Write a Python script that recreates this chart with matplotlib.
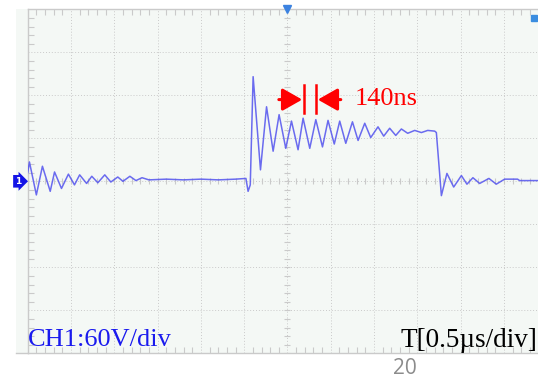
import numpy as np
import matplotlib.pyplot as plt
from matplotlib.patches import Rectangle
from matplotlib.lines import Line2D

# Scope settings: 12 horizontal divisions of 0.5 us, 8 vertical of 60 V
t_div = 0.5     # us/div
v_div = 60.0    # V/div
n_hdiv = 12
n_vdiv = 8

# CH1 trace vertices (time in us, voltage in V)
t_ring0 = [-3.00, -2.98, -2.90, -2.83, -2.74, -2.69, -2.61, -2.53, -2.46, -2.40,
           -2.32, -2.26, -2.19, -2.11, -2.04, -1.96, -1.90, -1.82, -1.75, -1.68,
           -1.60, -1.40, -1.20, -1.00, -0.80, -0.60, -0.48]
v_ring0 = [12, 27, -19, 21, -14, 13, -10, 10, -5, 9,
           -3, 7, -2, 9, -1, 6, 0, 7, 1, 5,
           2, 3, 2, 3, 2, 3, 4]

t_pulse = [-0.455, -0.43, -0.397, -0.312, -0.242, -0.166, -0.097, -0.020, 0.046, 0.122,
           0.180, 0.257, 0.327, 0.404, 0.468, 0.540, 0.603, 0.673, 0.750, 0.815,
           0.892, 0.961, 1.045, 1.111, 1.180, 1.250, 1.315, 1.388, 1.469, 1.546,
           1.619, 1.700, 1.719]
v_pulse = [-14, -5, 146, 16, 104, 42, 93, 46, 84, 44,
           88, 46, 86, 48, 85, 52, 84, 53, 83, 57,
           81, 61, 76, 63, 74, 64, 73, 67, 71, 68,
           71, 70, 68]

t_ring1 = [1.777, 1.841, 1.919, 2.008, 2.072, 2.141, 2.219, 2.326, 2.411, 2.507,
           2.657, 2.68, 3.00]
v_ring1 = [-20, 11, -8, 8, -4, 5, -3, 4, -4, 3,
           3, 1, 1]

t = np.array(t_ring0 + t_pulse + t_ring1)
v = np.array(v_ring0 + v_pulse + v_ring1)

screen_bg = '#f4f8f5'
grid_col = '#cacaca'
trace_col = '#5252ee'

fig = plt.figure(figsize=(5.38, 3.78), dpi=100)
W, H = 538.0, 378.0

# pale screen area behind the graticule
fig.patches.append(Rectangle((16 / W, 1 - 353.3 / H), 1, (353.3 - 9.3) / H,
                             transform=fig.transFigure, fc=screen_bg, ec='none', zorder=-5))
fig.lines.append(Line2D([16 / W, 28 / W], [1 - 353.3 / H] * 2,
                        transform=fig.transFigure, color=grid_col, lw=1, zorder=-4))

ax = fig.add_axes([27.7 / W, 1 - 353.3 / H, 519.6 / W, 344 / H])
ax.set_facecolor(screen_bg)
t_half = n_hdiv * t_div / 2
v_half = n_vdiv * v_div / 2
ax.set_xlim(-t_half, t_half)
ax.set_ylim(-v_half, v_half)

# graticule
ax.set_xticks(np.arange(-t_half, t_half + 1e-9, t_div))
ax.set_yticks(np.arange(-v_half, v_half + 1e-9, v_div))
ax.set_xticks(np.arange(-t_half, t_half + 1e-9, t_div / 5), minor=True)
ax.set_yticks(np.arange(-v_half, v_half + 1e-9, v_div / 5), minor=True)
ax.tick_params(which='both', direction='in', length=4, width=0.8, color=grid_col,
               labelbottom=False, labelleft=False, top=True, right=True)
ax.tick_params(which='major', length=0)
ax.grid(True, which='major', color=grid_col, lw=0.7, linestyle=(0, (1, 2)))
for s in ax.spines.values():
    s.set_color(grid_col)
    s.set_linewidth(1)

# small ticks on the centre lines
tt = np.arange(-t_half, t_half + 1e-9, t_div / 5)
vv = np.arange(-v_half, v_half + 1e-9, v_div / 5)
ax.plot(tt, np.zeros_like(tt), ls='none', marker='|', ms=5, mew=0.8, color=grid_col)
ax.plot(np.zeros_like(vv), vv, ls='none', marker='_', ms=5, mew=0.8, color=grid_col)

# waveform
ax.plot(t, v, color=trace_col, lw=1.1, alpha=0.85, zorder=3,
        solid_joinstyle='round')

# trigger / channel markers
ax.plot(0, v_half, marker='v', ms=6, color='#3b82e0', clip_on=False, zorder=5)
ax.plot(2.85, 228, marker='s', ms=5, color='#3b8de0', clip_on=False, zorder=5)
ax.text(-3.075, 0, '1', ha='right', va='center', color='white', fontsize=6.5,
        fontweight='bold',
        bbox=dict(boxstyle='rarrow,pad=0.2', fc='#1414e6', ec='none'),
        clip_on=False, zorder=5)

# period measurement
t_a, period = 0.19, 0.14
y_arr = 114
ax.plot([t_a, t_a], [95, 134], color='red', lw=1.8, zorder=4)
ax.plot([t_a + period] * 2, [95, 134], color='red', lw=1.8, zorder=4)
arr = dict(arrowstyle='-|>,head_length=0.6,head_width=0.34', color='red', lw=2.2,
           mutation_scale=20, shrinkA=0, shrinkB=0)
ax.annotate('', xy=(t_a - 0.02, y_arr), xytext=(-0.10, y_arr), arrowprops=arr, zorder=4)
ax.annotate('', xy=(t_a + period + 0.02, y_arr), xytext=(0.615, y_arr),
            arrowprops=arr, zorder=4)
ax.text(0.777, 106, '%dns' % round(period * 1000), color='red', fontsize=19,
        family='Liberation Serif', va='baseline', ha='left')

# scale labels
ax.text(-2.995, -230, 'CH1:60V/div', color='#1a1aee', fontsize=19,
        family='Liberation Serif', va='baseline', ha='left', zorder=6)
fig.text(537 / W, 1 - 347 / H, 'T[0.5µs/div]', color='black', fontsize=19.5,
         family='Liberation Serif', va='baseline', ha='right', zorder=6)

# page number
fig.text(404.5 / W, 1 - 374 / H, '20', color='#8c8c8c', fontsize=15,
         family='Open Sans', va='baseline', ha='center')

fig.savefig('out.png', dpi=100)
